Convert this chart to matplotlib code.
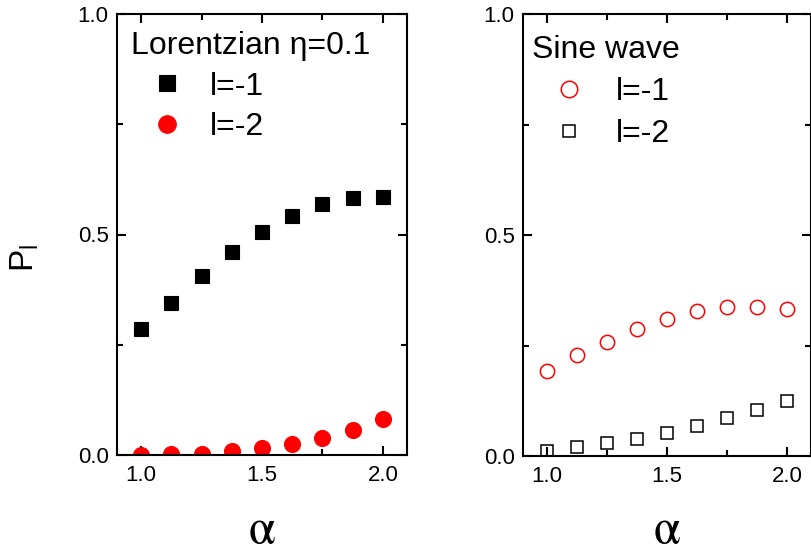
import matplotlib
matplotlib.use("Agg")
import matplotlib.pyplot as plt
from matplotlib.ticker import MultipleLocator

plt.rcParams['font.family'] = ['Liberation Sans', 'DejaVu Sans']
plt.rcParams['mathtext.fontset'] = 'custom'
plt.rcParams['mathtext.rm'] = 'Liberation Sans'

# alpha values (x axis)
alpha = [1.0, 1.125, 1.25, 1.375, 1.5, 1.625, 1.75, 1.875, 2.0]

# Lorentzian eta=0.1
lor_l1 = [0.286, 0.345, 0.405, 0.46, 0.506, 0.542, 0.569, 0.583, 0.585]
lor_l2 = [0.0, 0.002, 0.003, 0.008, 0.016, 0.025, 0.039, 0.057, 0.082]

# Sine wave
sin_l1 = [0.193, 0.228, 0.259, 0.287, 0.310, 0.327, 0.336, 0.338, 0.332]
sin_l2 = [0.012, 0.020, 0.029, 0.038, 0.053, 0.069, 0.087, 0.103, 0.124]

W, H = 811, 555
fig = plt.figure(figsize=(W / 100, H / 100), dpi=100)

ax1 = fig.add_axes([117 / W, (H - 455) / H, 290 / W, 441 / H])
ax2 = fig.add_axes([523 / W, (H - 456) / H, 288 / W, 442 / H])


def style(ax, lab_y):
    ax.set_xlim(0.9, 2.1)
    ax.set_ylim(0, 1.0)
    ax.xaxis.set_major_locator(MultipleLocator(0.5))
    ax.xaxis.set_minor_locator(MultipleLocator(0.25))
    ax.yaxis.set_major_locator(MultipleLocator(0.5))
    ax.yaxis.set_minor_locator(MultipleLocator(0.25))
    ax.xaxis.set_major_formatter(lambda v, p: f"{v:.1f}")
    ax.yaxis.set_major_formatter(lambda v, p: f"{v:.1f}")
    ax.tick_params(which='both', direction='in', top=True, right=True, width=1.5)
    ax.tick_params(which='major', length=6.5, labelsize=16)
    ax.tick_params(axis='x', which='major', pad=7)
    ax.tick_params(axis='y', which='major', pad=6)
    ax.tick_params(which='minor', length=4.5)
    for s in ax.spines.values():
        s.set_linewidth(1.5)
    ax.set_xlabel(r'$\mathrm{\alpha}$', fontsize=35, math_fontfamily='stix', va='bottom')
    ax.xaxis.set_label_coords(0.5, lab_y)


# left panel
ax1.plot(alpha, lor_l1, 's', color='black', markersize=10.5, mew=0.8, linestyle='none', label='l=-1')
ax1.plot(alpha, lor_l2, 'o', color='red', markersize=11.5, mew=0.8, linestyle='none', label='l=-2')
style(ax1, -0.2245)
ax1.legend(title='Lorentzian η=0.1', loc='upper left', bbox_to_anchor=(0.048, 0.962),
           frameon=False, fontsize=23, title_fontsize=23, alignment='left',
           handlelength=2.26, handletextpad=0.22, borderaxespad=0, borderpad=0,
           labelspacing=0.34, markerscale=1.1)

# right panel
ax2.plot(alpha, sin_l1, 'o', mfc='none', mec='red', markersize=10.3, mew=1.1, linestyle='none', label='l=-1')
ax2.plot(alpha, sin_l2, 's', mfc='none', mec='black', markersize=8, mew=1.1, linestyle='none', label='l=-2')
style(ax2, -0.2217)
ax2.legend(title='Sine wave', loc='upper left', bbox_to_anchor=(0.032, 0.9525),
           frameon=False, fontsize=23, title_fontsize=23, alignment='left',
           handlelength=2.32, handletextpad=0.31, borderaxespad=0, borderpad=0,
           labelspacing=0.38, markerscale=1.15)

fig.text(25 / W, 1 - 258 / H, r'P$_\mathregular{l}$', rotation=90, fontsize=24,
         ha='center', va='center')

fig.savefig('out.png', dpi=100)
